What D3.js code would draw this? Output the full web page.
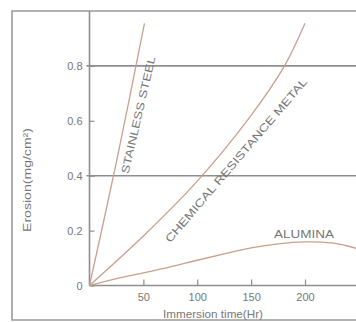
<!DOCTYPE html>
<html><head><meta charset="utf-8">
<script src="https://cdn.jsdelivr.net/npm/d3@7/dist/d3.min.js"></script>
<style>body{margin:0;background:#fff}svg{display:block}</style>
</head><body>
<svg id="c" width="356" height="322"></svg>
<script>
// ---- data ----
const xTicks = [50, 100, 150, 200];
const yTicks = [0, 0.2, 0.4, 0.6, 0.8];
const yTickLabels = ["0", "0.2", "0.4", "0.6", "0.8"];
const gridValues = [0.4, 0.8];
const seriesNames = ["STAINLESS STEEL", "CHEMICAL RESISTANCE METAL", "ALUMINA"];
const stainlessX = [0, 25, 51];
const stainlessY = [0, 0.45, 0.955];
const chemicalX = [0, 50, 100, 150, 181, 200];
const chemicalY = [0, 0.18, 0.38, 0.62, 0.8, 0.955];
const aluminaX = [0, 25, 50, 75, 100, 125, 150, 175, 200, 225, 248];
const aluminaY = [0, 0.025, 0.046, 0.068, 0.092, 0.115, 0.137, 0.152, 0.159, 0.155, 0.135];
const xTitle = "Immersion time(Hr)";
const yTitle = "Erosion(mg/cm\u00b2)";

// ---- layout ----
const svg = d3.select("#c");
const x = d3.scaleLinear().domain([0, 200]).range([89.5, 305]);
const y = d3.scaleLinear().domain([0, 1]).range([285.5, 11]);
const gray = "#8e8e8e", txt = "#777777", curve = "#c9a08e";
const font = "'Liberation Sans', Arial, sans-serif";

// frame
svg.append("path").attr("d", "M356,11H12V320H356")
  .attr("fill", "none").attr("stroke", "#9a9a9a").attr("stroke-width", 1.6);

// gridlines
svg.selectAll("line.grid").data(gridValues).enter().append("line")
  .attr("x1", x(0) - 3).attr("x2", 356)
  .attr("y1", d => y(d)).attr("y2", d => y(d))
  .attr("stroke", gray).attr("stroke-width", 1.6);

// y axis
const yAxis = d3.axisLeft(y).tickValues(yTicks)
  .tickFormat((d, i) => yTickLabels[i]).tickSize(-5).tickSizeOuter(0).tickPadding(7);
const gy = svg.append("g").attr("transform", `translate(${x(0)},0)`).call(yAxis);
gy.select(".domain").remove();
gy.selectAll(".tick line").attr("stroke", gray).attr("stroke-width", 1.2);
gy.selectAll("text").attr("fill", txt).style("font-family", font).style("font-size", "11px");
svg.append("line").attr("x1", x(0)).attr("x2", x(0)).attr("y1", 11).attr("y2", y(0))
  .attr("stroke", gray).attr("stroke-width", 1.6);

// x axis
const xAxis = d3.axisBottom(x).tickValues(xTicks).tickSize(-6).tickSizeOuter(0).tickPadding(8);
const gx = svg.append("g").attr("transform", `translate(0,${y(0)})`).call(xAxis);
gx.select(".domain").remove();
gx.selectAll(".tick line").attr("stroke", gray).attr("stroke-width", 1.2);
gx.selectAll("text").attr("fill", txt).style("font-family", font).style("font-size", "11px");
svg.append("line").attr("x1", x(0)).attr("x2", 356).attr("y1", y(0)).attr("y2", y(0))
  .attr("stroke", gray).attr("stroke-width", 1.6);

// curves
const line = d3.line().x(d => x(d[0])).y(d => y(d[1])).curve(d3.curveCatmullRom.alpha(0.5));
[[stainlessX, stainlessY], [chemicalX, chemicalY], [aluminaX, aluminaY]].forEach(([xs, ys]) => {
  svg.append("path").datum(xs.map((v, i) => [v, ys[i]]))
    .attr("d", line).attr("fill", "none").attr("stroke", curve).attr("stroke-width", 1.3);
});

// curve labels
function label(t, cx, cy, ang, len) {
  svg.append("text").attr("transform", `translate(${cx},${cy}) rotate(${ang})`)
    .attr("text-anchor", "middle").attr("dominant-baseline", "central")
    .attr("textLength", len).attr("lengthAdjust", "spacingAndGlyphs")
    .attr("fill", txt).style("font-family", font).style("font-size", "11px").text(t);
}
label(seriesNames[0], 138, 115, -77, 120);
label(seriesNames[1], 236, 160, -49.5, 212);
label(seriesNames[2], 304, 234, 0, 60);

// titles
svg.append("text").attr("x", 213).attr("y", 318).attr("text-anchor", "middle")
  .attr("fill", txt).style("font-family", font).style("font-size", "10.5px")
  .attr("textLength", 100).attr("lengthAdjust", "spacingAndGlyphs").text(xTitle);
svg.append("text").attr("transform", "translate(31,180) rotate(-90)").attr("text-anchor", "middle")
  .attr("fill", txt).style("font-family", font).style("font-size", "10.5px")
  .attr("textLength", 104).attr("lengthAdjust", "spacingAndGlyphs").text(yTitle);
</script>
</body></html>
